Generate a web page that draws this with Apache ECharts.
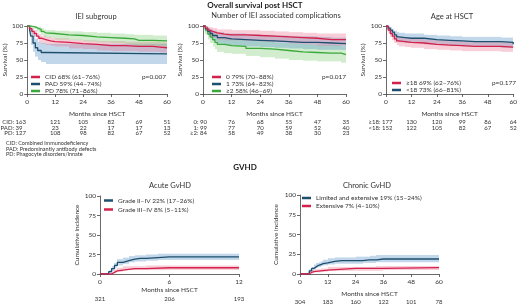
<!DOCTYPE html>
<html>
<head>
<meta charset="utf-8">
<script src="https://cdn.jsdelivr.net/npm/echarts@6/dist/echarts.min.js"></script>
<style>
  html, body { margin: 0; padding: 0; background: #fff; }
  #main { width: 520px; height: 305px; }
</style>
</head>
<body>
<div id="main"></div>
<script>
// ---- IEI subgroup ----
const cidT  = [0, 1, 2, 3, 4, 5, 6, 8, 10, 12, 18, 24, 30, 36, 42, 48, 54, 57, 60]
const cidS  = [100, 96, 92, 89, 85, 82, 80, 78, 77, 76, 74, 73, 71, 71, 70, 70, 69, 68, 68]
const cidLo = [100, 93, 88, 84, 80, 77, 74, 72, 71, 70, 67, 66, 64, 63, 63, 62, 62, 61, 61]
const cidHi = [100, 99, 96, 94, 90, 88, 86, 84, 83, 82, 80, 79, 78, 78, 77, 77, 77, 76, 76]
const padT  = [0, 1, 1.5, 2.5, 3.5, 4.5, 6, 8, 60]
const padS  = [100, 95, 85, 75, 68, 64, 61, 59, 59]
const padLo = [100, 85, 72, 62, 55, 50, 47, 44, 44]
const padHi = [100, 100, 96, 88, 81, 77, 75, 74, 74]
const pdT   = [0, 2, 4, 5, 6, 7, 8, 12, 18, 24, 30, 36, 42, 46, 48, 54, 60]
const pdS   = [100, 98, 96, 95, 92, 90, 89, 87, 86, 84, 83, 82, 81, 79, 79, 78, 78]
const pdLo  = [100, 96, 92, 90, 87, 84, 83, 80, 79, 77, 76, 75, 73, 71, 71, 71, 71]
const pdHi  = [100, 100, 99, 99, 97, 95, 94, 93, 92, 91, 90, 89, 88, 87, 87, 86, 86]

// ---- number of complications ----
const c0T  = [0, 1, 2, 3, 4, 6, 9, 12, 18, 24, 30, 36, 42, 48, 54, 60]
const c0S  = [100, 97, 94, 92, 90, 88, 87, 87, 86, 85, 84, 83, 82, 80, 80, 79]
const c0Lo = [100, 93, 88, 85, 83, 80, 79, 79, 78, 77, 76, 74, 73, 71, 71, 70]
const c0Hi = [100, 100, 99, 98, 97, 95, 95, 94, 94, 93, 92, 91, 90, 89, 89, 88]
const c1T  = [0, 1, 2, 3, 4, 6, 9, 12, 18, 24, 30, 36, 42, 48, 54, 60]
const c1S  = [100, 96, 92, 89, 86, 83, 81, 80, 79, 78, 77, 76, 76, 75, 74, 73]
const c1Lo = [100, 92, 86, 82, 78, 74, 72, 71, 70, 69, 68, 67, 66, 65, 65, 64]
const c1Hi = [100, 100, 97, 95, 93, 91, 89, 89, 88, 87, 86, 85, 85, 84, 83, 82]
const c2T  = [0, 1, 2, 3, 4, 5, 6, 9, 12, 18, 24, 30, 36, 42, 48, 54, 58, 60]
const c2S  = [100, 94, 88, 84, 80, 76, 73, 71, 70, 67, 66, 64, 62, 61, 60, 60, 58, 57]
const c2Lo = [100, 88, 80, 75, 70, 66, 62, 60, 59, 56, 54, 52, 50, 49, 48, 48, 46, 45]
const c2Hi = [100, 99, 95, 92, 89, 86, 83, 81, 80, 78, 77, 75, 74, 73, 72, 72, 70, 69]

// ---- age at HSCT ----
const ageT   = [0, 1, 2, 3, 4, 5, 6, 9, 12, 18, 24, 30, 36, 42, 48, 54, 60]
const adS    = [100, 94, 89, 85, 81, 78, 77, 76, 75, 73, 72, 71, 70, 70, 70, 69, 69]
const adLo   = [100, 90, 84, 79, 75, 72, 70, 69, 68, 66, 65, 64, 63, 63, 63, 62, 62]
const adHi   = [100, 98, 94, 90, 87, 84, 83, 82, 81, 80, 79, 78, 77, 77, 77, 76, 76]
const chS    = [100, 97, 94, 91, 87, 84, 83, 82, 82, 80, 79, 78, 77, 77, 77, 76, 73]
const chLo   = [100, 93, 89, 85, 80, 77, 76, 75, 75, 73, 72, 71, 70, 70, 69, 68, 66]
const chHi   = [100, 100, 98, 96, 93, 91, 90, 89, 89, 87, 86, 85, 84, 84, 84, 83, 81]

// ---- acute GvHD (cumulative incidence) ----
const a24T  = [0, 0.5, 0.75, 1, 1.25, 1.5, 2, 2.5, 3, 3.5, 4, 5, 6, 8, 10, 12]
const a24S  = [0, 0, 3, 7, 11, 15, 17, 19, 20, 20, 21, 22, 22, 22, 22, 22]
const a24Lo = [0, 0, 1, 4, 8, 11, 13, 15, 16, 16, 17, 18, 18, 18, 18, 18]
const a24Hi = [0, 0, 5, 10, 14, 19, 21, 23, 24, 24, 25, 26, 26, 26, 26, 26]
const a34T  = [0, 0.8, 1, 1.25, 1.5, 2, 3, 4, 6, 12]
const a34S  = [0, 0, 2, 4, 5, 7, 7, 8, 8, 8]
const a34Lo = [0, 0, 1, 2, 3, 5, 5, 5, 5, 5]
const a34Hi = [0, 0, 3, 6, 8, 10, 10, 11, 11, 11]

// ---- chronic GvHD ----
const cLeT  = [0, 3, 4, 5, 6, 7, 8, 9, 10, 12, 15, 18, 24, 27, 30, 33, 36, 60]
const cLeS  = [0, 0, 4, 7, 9, 11, 12, 13, 14, 16, 17, 17, 17, 18, 18, 19, 19, 19]
const cLeLo = [0, 0, 2, 4, 6, 8, 9, 10, 11, 12, 13, 13, 13, 14, 14, 15, 15, 15]
const cLeHi = [0, 0, 6, 9, 12, 14, 15, 16, 18, 20, 21, 21, 22, 22, 23, 24, 24, 24]
const cExT  = [0, 3, 4, 5, 6, 9, 12, 24, 27, 33, 36, 60]
const cExS  = [0, 0, 2, 3, 4, 5, 7, 7, 7, 7, 8, 8]
const cExLo = [0, 0, 1, 1, 2, 3, 4, 4, 4, 4, 5, 5]
const cExHi = [0, 0, 3, 5, 6, 7, 9, 9, 9, 10, 10, 10]

// ---- numbers at risk ----
const ticks60 = [0, 12, 24, 36, 48, 60]
const ticks12 = [0, 6, 12]
const riskCID = [163, 121, 105, 82, 69, 51]
const riskPAD = [39, 23, 22, 17, 17, 13]
const riskPD  = [127, 108, 98, 82, 67, 52]
const risk0   = [90, 76, 68, 55, 47, 35]
const risk1   = [99, 77, 70, 59, 52, 40]
const risk2   = [84, 58, 49, 38, 30, 23]
const riskAd  = [177, 130, 120, 99, 86, 64]
const riskCh  = [152, 122, 105, 82, 67, 52]
const riskAcute   = [321, 206, 193]
const riskChronic = [304, 183, 160, 122, 101, 78]

const F = 'Lato, "Open Sans", sans-serif'
const RED = '#d3214b', RED_B = 'rgba(232,96,128,0.30)'
const BLUE = '#1e4f6e', BLUE_B = 'rgba(86,146,196,0.36)'
const GREEN = '#3aa83a', GREEN_B = 'rgba(128,204,118,0.36)'

// confidence band drawn as step rectangles through the axis scales
function band (gi, color, t, lo, hi) {
  return {
    type: 'custom', xAxisIndex: gi, yAxisIndex: gi, silent: true, z: 1, clip: true,
    encode: { x: [0, 1], y: [2, 3] },
    data: t.slice(0, -1).map((x, i) => [x, t[i + 1], lo[i], hi[i]]),
    renderItem: function (params, api) {
      const a = api.coord([api.value(0), api.value(3)])
      const b = api.coord([api.value(1), api.value(2)])
      const x1 = Math.round(a[0]), x2 = Math.round(b[0])
      return { type: 'rect', shape: { x: x1, y: a[1], width: x2 - x1, height: b[1] - a[1] },
        style: { fill: color } }
    }
  }
}
function km (gi, name, color, bandColor, t, s, lo, hi) {
  return [
    band(gi, bandColor, t, lo, hi),
    { type: 'line', name: name, xAxisIndex: gi, yAxisIndex: gi, step: 'end', symbol: 'none',
      lineStyle: { color: color, width: 1.3 }, itemStyle: { color: color }, z: 3,
      data: t.map((x, i) => [x, s[i]]) }
  ]
}

function xAx (gi, max, interval, gap) {
  return {
    gridIndex: gi, type: 'value', min: 0, max: max, interval: interval,
    name: 'Months since HSCT', nameLocation: 'middle', nameGap: gap,
    nameTextStyle: { fontSize: 6.5, fontFamily: F, color: '#333' },
    axisLine: { lineStyle: { color: '#444', width: 0.8 } },
    axisTick: { length: 3, lineStyle: { color: '#444', width: 0.8 } },
    axisLabel: { fontSize: 6.5, fontFamily: F, color: '#333', margin: 4 },
    splitLine: { show: false }
  }
}
function yAx (gi, name, gap) {
  return {
    gridIndex: gi, type: 'value', min: 0, max: 100, interval: 25,
    name: name, nameLocation: 'middle', nameGap: gap,
    nameTextStyle: { fontSize: 6.5, fontFamily: F, color: '#333' },
    axisLine: { show: true, lineStyle: { color: '#444', width: 0.8 } },
    axisTick: { show: true, length: 3, lineStyle: { color: '#444', width: 0.8 } },
    axisLabel: { fontSize: 6.5, fontFamily: F, color: '#333', margin: 4 },
    splitLine: { show: false }
  }
}
function leg (names, left, top, gap) {
  return {
    data: names, left: left, top: top, orient: 'vertical', icon: 'rect',
    itemWidth: 9, itemHeight: 2.5, itemGap: gap, padding: 0, selectedMode: false,
    textStyle: { fontSize: 6.5, fontFamily: F, color: '#333', lineHeight: 7 }
  }
}

const nCID = 'CID 68% (61–76%)', nPAD = 'PAD 59% (44–74%)', nPD = 'PD 78% (71–86%)'
const n0 = '0 79% (70–88%)', n1 = '1 73% (64–82%)', n2 = '≥2 58% (46–69)'
const nAd = '≥18 69% (62–76%)', nCh = '<18 73% (66–81%)'
const nA24 = 'Grade II–IV 22% (17–26%)', nA34 = 'Grade III–IV 8% (5–11%)'
const nLe = 'Limited and extensive 19% (15–24%)', nEx = 'Extensive 7% (4–10%)'

const myChart = echarts.init(document.getElementById('main'))
const option = {
  animation: false,
  grid: [
    { left: 25, top: 26, width: 142, height: 68 },
    { left: 203, top: 26, width: 143, height: 68 },
    { left: 386, top: 26, width: 130, height: 68 },
    { left: 100, top: 196, width: 139, height: 78 },
    { left: 300, top: 195, width: 139, height: 79 }
  ],
  xAxis: [xAx(0, 60, 12, 16), xAx(1, 60, 12, 16), xAx(2, 60, 12, 16), xAx(3, 12, 6, 12), xAx(4, 60, 12, 16)],
  yAxis: [yAx(0, 'Survival (%)', 13), yAx(1, 'Survival (%)', 16), yAx(2, 'Survival (%)', 17),
    yAx(3, 'Cumulative incidence', 19), yAx(4, 'Cumulative incidence', 21)],
  legend: [
    leg([nCID, nPAD, nPD], 31, 73.5, 0),
    leg([n0, n1, n2], 212, 73.5, 0),
    leg([nAd, nCh], 392, 79.5, 0),
    leg([nA24, nA34], 104, 197, 2),
    leg([nLe, nEx], 302, 194.5, 1)
  ],
  series: [].concat(
    km(0, nPAD, BLUE, BLUE_B, padT, padS, padLo, padHi),
    km(0, nCID, RED, RED_B, cidT, cidS, cidLo, cidHi),
    km(0, nPD, GREEN, GREEN_B, pdT, pdS, pdLo, pdHi),
    km(1, n2, GREEN, GREEN_B, c2T, c2S, c2Lo, c2Hi),
    km(1, n1, BLUE, BLUE_B, c1T, c1S, c1Lo, c1Hi),
    km(1, n0, RED, RED_B, c0T, c0S, c0Lo, c0Hi),
    km(2, nCh, BLUE, BLUE_B, ageT, chS, chLo, chHi),
    km(2, nAd, RED, RED_B, ageT, adS, adLo, adHi),
    km(3, nA24, BLUE, BLUE_B, a24T, a24S, a24Lo, a24Hi),
    km(3, nA34, RED, RED_B, a34T, a34S, a34Lo, a34Hi),
    km(4, nLe, BLUE, BLUE_B, cLeT, cLeS, cLeLo, cLeHi),
    km(4, nEx, RED, RED_B, cExT, cExS, cExLo, cExHi)
  )
}
myChart.setOption(option)

function txt (x, y, s, opt) {
  return { type: 'text', x: x, y: y, silent: true,
    style: Object.assign({ text: s, fontSize: 6, fontFamily: F, fill: '#333', align: 'center', verticalAlign: 'middle' }, opt || {}) }
}
function px (gi, t) { return myChart.convertToPixel({ xAxisIndex: gi }, t) }

// numbers-at-risk rows; the first number is left-aligned next to its label
function riskRows (gi, ticks, labels, rows, ys, labelX, firstX) {
  const out = []
  rows.forEach((vals, r) => {
    if (labels) out.push(txt(labelX, ys[r], labels[r], { align: 'right' }))
    vals.forEach((v, i) => {
      if (i === 0 && firstX != null) out.push(txt(firstX, ys[r], String(v), { align: 'left' }))
      else out.push(txt(px(gi, ticks[i]), ys[r], String(v)))
    })
  })
  return out
}

const g = [
  txt(255, 5.5, 'Overall survival post HSCT', { fontSize: 8, fontWeight: 'bold', fill: '#222' }),
  txt(96, 16.5, 'IEI subgroup', { fontSize: 7.5 }),
  txt(276, 16, 'Number of IEI associated complications', { fontSize: 7.5 }),
  txt(452, 16.5, 'Age at HSCT', { fontSize: 7.5 }),
  txt(166, 77, 'p=0.007', { align: 'right', fontSize: 6.5 }),
  txt(346, 77, 'p=0.017', { align: 'right', fontSize: 6.5 }),
  txt(516, 83, 'p=0.177', { align: 'right', fontSize: 6.5 }),
  txt(6, 143.5, 'CID: Combined immunodeficiency', { align: 'left', fontSize: 5.5 }),
  txt(6, 148.8, 'PAD: Predominantly antibody defects', { align: 'left', fontSize: 5.5 }),
  txt(6, 154, 'PD: Phagocyte disorders/innate', { align: 'left', fontSize: 5.5 }),
  txt(245, 167, 'GVHD', { fontSize: 8, fontWeight: 'bold', fill: '#222' }),
  txt(170, 186, 'Acute GvHD', { fontSize: 7.5 }),
  txt(367, 186, 'Chronic GvHD', { fontSize: 7.5 })
].concat(
  riskRows(0, ticks60, ['CID:', 'PAD:', 'PD:'], [riskCID, riskPAD, riskPD], [122.5, 127.8, 133.1], 14, 15.5),
  riskRows(1, ticks60, ['0:', '1:', '≥2:'], [risk0, risk1, risk2], [122.5, 127.8, 133.1], 198.5, 200),
  riskRows(2, ticks60, ['≥18:', '<18:'], [riskAd, riskCh], [122.5, 127.8], 380.5, 382),
  riskRows(3, ticks12, null, [riskAcute], [299], 0, null),
  riskRows(4, ticks60, null, [riskChronic], [302], 0, null)
)
myChart.setOption({ graphic: g })
window.addEventListener('resize', function () { myChart.resize() })
</script>
</body>
</html>
